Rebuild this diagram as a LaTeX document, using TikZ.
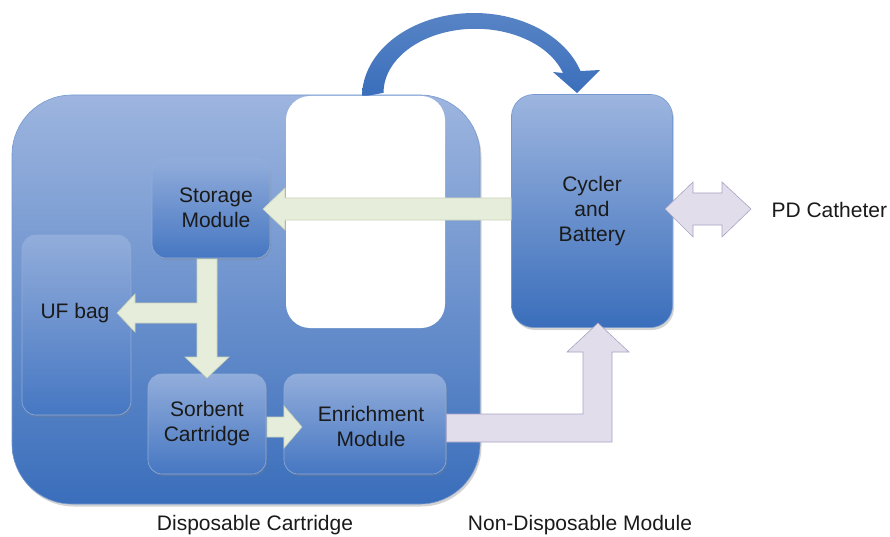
\documentclass[tikz,border=0pt]{standalone}
\usepackage{fontspec}
\setmainfont{Liberation Sans}
\usetikzlibrary{shadows}
\definecolor{btop}{HTML}{9DB5DF}
\definecolor{bbot}{HTML}{3A6EBB}
\definecolor{itop}{HTML}{92ADDB}
\definecolor{ibot}{HTML}{4677C2}
\definecolor{grn}{HTML}{E7EDDB}
\definecolor{grnedge}{HTML}{C9D3B8}
\definecolor{lav}{HTML}{E1DDEB}
\definecolor{lavedge}{HTML}{A9A3C4}
\definecolor{txt}{HTML}{1A1A1A}
\begin{document}
\begin{tikzpicture}[x=1pt,y=-1pt,
  every node/.style={font=\fontsize{21}{25}\selectfont, text=txt, align=center},
  bigbox/.style={rounded corners=60pt, top color=btop, bottom color=bbot, draw=bbot!70!white, line width=0.6pt,
     drop shadow={shadow xshift=1.5pt, shadow yshift=-2.5pt, opacity=0.35}},
  cycbox/.style={rounded corners=22pt, top color=btop, bottom color=bbot, draw=bbot!70!white, line width=0.6pt,
     drop shadow={shadow xshift=1.5pt, shadow yshift=-2.5pt, opacity=0.35}},
  inbox/.style={rounded corners=14pt, top color=itop, bottom color=ibot, draw=ibot!60!white, line width=0.6pt,
     drop shadow={shadow xshift=1pt, shadow yshift=-2pt, opacity=0.3}},
  whitebox/.style={rounded corners=24pt, fill=white, draw=none},
  curvearrow/.style={top color=bbot!85!white, bottom color=bbot, draw=none},
  grnarrow/.style={fill=grn, draw=grnedge, line width=0.6pt},
  lavarrow/.style={fill=lav, draw=lavedge, line width=0.6pt},
  caption/.style={font=\fontsize{21}{25}\selectfont}
]
\useasboundingbox (0,0) rectangle (890,537);

% disposable cartridge frame
\node[bigbox, minimum width=468pt, minimum height=409pt] (disp) at (246,299.5) {};

% curved arrow from disposable to non-disposable
\path[curvearrow] (362,97) arc[start angle=180, end angle=342, x radius=112, y radius=84]
  -- (600,70) -- (577,93) coordinate (tip) -- (553,72)
  -- (563,73) arc[start angle=342, end angle=180, x radius=92, y radius=64] -- cycle;
% white cut-out
\node[whitebox, minimum width=159pt, minimum height=232pt] (gap) at (365.5,212) {};

% non-disposable module
\node[cycbox, minimum width=161pt, minimum height=233pt] (cyc) at (592,211) {Cycler\\and\\Battery};

% inner modules
\node[inbox, minimum width=109pt, minimum height=180pt] (uf) at (76.5,325) {};
\node (uflabel) at (75,313) {UF bag};
\node[inbox, minimum width=118pt, minimum height=100pt] (stor) at (211,208) {};
\node (storlabel) at (216,208) {Storage\\Module};
\node[inbox, minimum width=118pt, minimum height=100pt] (sorb) at (207,424) {Sorbent\\Cartridge};
\node[inbox, minimum width=162pt, minimum height=100pt] (enr) at (365,424) {};
\node (enrlabel) at (371,426) {Enrichment\\Module};

% cycler -> storage
\draw[grnarrow] (cyc.west |- 0,198) -- (285,198) -- (285,188) -- (263,209) -- (285,230) -- (285,220) -- (cyc.west |- 0,220) -- cycle;
% storage -> sorbent, branch to UF bag
\draw[grnarrow] (197,259) -- (217,259) -- (217,357) -- (229,357) -- (207,378) -- (185,357) -- (197,357)
  -- (197,323) -- (135,323) -- (135,332) -- (117,313) -- (135,294) -- (135,303) -- (197,303) -- cycle;
% sorbent -> enrichment
\draw[grnarrow] (267,417) -- (284,417) -- (284,406) -- (302,427) -- (284,448) -- (284,437) -- (267,437) -- cycle;

% enrichment -> cycler
\draw[lavarrow] (enr.east |- 0,414) -- (583,414) -- (583,352) -- (567,352) -- (598,323) -- (629,352) -- (612,352)
  -- (612,442) -- (enr.east |- 0,442) -- cycle;

% PD catheter double arrow
\draw[lavarrow] (665,209) -- (693,182) -- (693,193) -- (722,193) -- (722,182) -- (751,209) -- (722,237)
  -- (722,225) -- (693,225) -- (693,237) -- cycle;
\node[anchor=west] (pd) at (768,210) {PD Catheter};

% captions
\node[caption] (dcap) at (255,525) {Disposable Cartridge};
\node[caption] (ncap) at (580,525) {Non-Disposable Module};
\end{tikzpicture}
\end{document}
